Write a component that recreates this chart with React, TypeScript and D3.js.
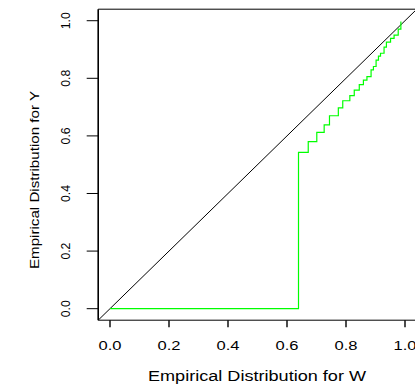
import React from "react";
import * as d3 from "d3";

const stepX = [0.0, 0.639, 0.672, 0.701, 0.726, 0.744, 0.774, 0.789, 0.813, 0.828, 0.845, 0.859, 0.871, 0.885, 0.893, 0.902, 0.91, 0.917, 0.929, 0.937, 0.951, 0.963, 0.977, 0.986];
const stepY = [0.0, 0.543, 0.58, 0.612, 0.638, 0.67, 0.697, 0.722, 0.74, 0.759, 0.778, 0.794, 0.806, 0.829, 0.841, 0.863, 0.877, 0.887, 0.908, 0.926, 0.939, 0.95, 0.971, 0.997];
const xTicks = [0, 0.2, 0.4, 0.6, 0.8, 1.0];
const yTicks = [0, 0.2, 0.4, 0.6, 0.8, 1.0];
const xLabel = "Empirical Distribution for W";
const yLabel = "Empirical Distribution for Y";

const W = 415;
const H = 388;
const FONT = "'Liberation Sans', Arial, Helvetica, sans-serif";

export default function App() {
  const x = d3.scaleLinear().domain([-0.04, 1.04]).range([98.2, 416.8]);
  const y = d3.scaleLinear().domain([-0.04, 1.04]).range([320.2, 9.2]);
  const pts: [number, number][] = stepX.map((v, i) => [v, stepY[i]]);
  const line = d3
    .line<[number, number]>()
    .x((d) => x(d[0]))
    .y((d) => y(d[1]))
    .curve(d3.curveStepAfter);
  const [x0, x1] = x.range();
  const [yb, yt] = y.range();
  return (
    <svg
      width={W}
      height={H}
      style={{ position: "absolute", left: 0, top: 0, background: "#fff" }}
    >
      <defs>
        <clipPath id="plotclip">
          <rect x={x0} y={yt} width={x1 - x0} height={yb - yt} />
        </clipPath>
      </defs>
      <rect x={0} y={0} width={W} height={H} fill="#fff" />
      <g clipPath="url(#plotclip)">
        <line
          x1={x(-0.04)}
          y1={y(-0.04)}
          x2={x(1.04)}
          y2={y(1.04)}
          stroke="#000"
          strokeWidth={1}
        />
        <path d={line(pts) || ""} fill="none" stroke="#00ff00" strokeWidth={1.2} />
      </g>
      {/* box */}
      <line x1={x0} y1={yt} x2={x1} y2={yt} stroke="#000" strokeWidth={1} />
      <line x1={x0} y1={yb} x2={x1} y2={yb} stroke="#000" strokeWidth={1} />
      <line x1={x0} y1={yt} x2={x0} y2={yb} stroke="#000" strokeWidth={1.6} />
      <line x1={x1} y1={yt} x2={x1} y2={yb} stroke="#000" strokeWidth={1.6} />
      {/* x axis */}
      {xTicks.map((t) => (
        <g key={"xt" + t}>
          <line x1={x(t)} x2={x(t)} y1={yb} y2={yb + 7} stroke="#000" strokeWidth={1.4} />
          <text
            x={x(t)}
            y={349.5}
            textAnchor="middle"
            fontFamily={FONT}
            fontSize={13}
            textLength={23}
            lengthAdjust="spacingAndGlyphs"
          >
            {t.toFixed(1)}
          </text>
        </g>
      ))}
      {/* y axis */}
      {yTicks.map((t) => (
        <g key={"yt" + t}>
          <line x1={x0 - 11.5} x2={x0} y1={y(t)} y2={y(t)} stroke="#000" strokeWidth={1} />
          <text
            transform={`translate(69.5,${y(t)}) rotate(-90)`}
            textAnchor="middle"
            fontFamily={FONT}
            fontSize={12}
            textLength={17}
            lengthAdjust="spacingAndGlyphs"
          >
            {t.toFixed(1)}
          </text>
        </g>
      ))}
      <text
        x={257}
        y={380.7}
        textAnchor="middle"
        fontFamily={FONT}
        fontSize={14}
        textLength={218}
        lengthAdjust="spacingAndGlyphs"
      >
        {xLabel}
      </text>
      <text
        transform={`translate(39,180) rotate(-90)`}
        textAnchor="middle"
        fontFamily={FONT}
        fontSize={12}
        textLength={178}
        lengthAdjust="spacingAndGlyphs"
      >
        {yLabel}
      </text>
    </svg>
  );
}
